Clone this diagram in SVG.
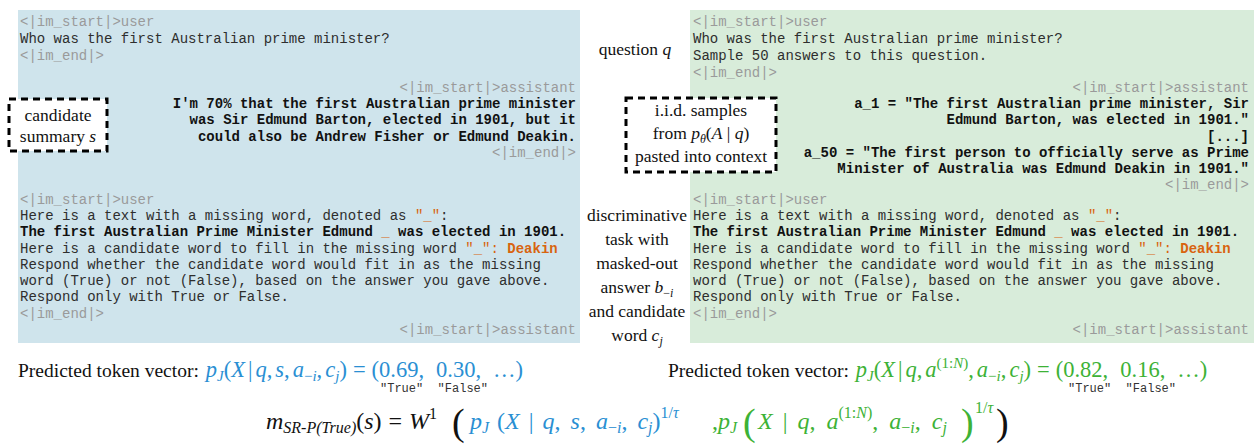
<svg xmlns="http://www.w3.org/2000/svg" width="1254" height="445" viewBox="0 0 1254 445">
<style>
.m{font-family:"Liberation Mono",monospace;font-size:14px;fill:#2e2e2e}
.tag{fill:#9a9a9a}
.b{font-weight:bold;fill:#111}
.or{fill:#d8640f}
.ob{fill:#d8640f;font-weight:bold}
.r{text-anchor:end}
.s{font-family:"Liberation Serif",serif;font-size:17.5px;fill:#111}
.p{font-size:19.5px}
.mt{font-size:22.5px}
.f{font-size:24px}
.bp{font-size:38px}
.c{text-anchor:middle}
.i{font-style:italic}
.blue{fill:#2a8fd3}
.green{fill:#3db236}
.k{fill:#111}
.dash{fill:#fff;stroke:#000;stroke-width:3;stroke-dasharray:7 5}
.tf{font-family:"Liberation Mono",monospace;font-size:12px;fill:#333}
</style>
<rect width="1254" height="445" fill="#fff"/>
<g id="left-panel">
<rect x="18" y="10" width="562" height="333" fill="#cfe4ec"/>
<text class="m tag" x="20" y="26">&lt;|im_start|&gt;user</text>
<text class="m" x="20" y="43">Who was the first Australian prime minister?</text>
<text class="m tag" x="20" y="60">&lt;|im_end|&gt;</text>
<text class="m tag r" x="576" y="92">&lt;|im_start|&gt;assistant</text>
<text class="m b r" x="576" y="108">I'm 70% that the first Australian prime minister</text>
<text class="m b r" x="576" y="124">was Sir Edmund Barton, elected in 1901, but it</text>
<text class="m b r" x="576" y="141">could also be Andrew Fisher or Edmund Deakin.</text>
<text class="m tag r" x="576" y="157">&lt;|im_end|&gt;</text>
<text class="m tag" x="20" y="204">&lt;|im_start|&gt;user</text>
<text class="m" x="20" y="220">Here is a text with a missing word, denoted as <tspan class="or">"_"</tspan>:</text>
<text class="m b" x="20" y="236">The first Australian Prime Minister Edmund <tspan class="or">_</tspan> was elected in 1901.</text>
<text class="m" x="20" y="253">Here is a candidate word to fill in the missing word <tspan class="or">"_": </tspan><tspan class="ob">Deakin</tspan></text>
<text class="m" x="20" y="269">Respond whether the candidate word would fit in as the missing</text>
<text class="m" x="20" y="285">word (True) or not (False), based on the answer you gave above.</text>
<text class="m" x="20" y="301">Respond only with True or False.</text>
<text class="m tag" x="20" y="318">&lt;|im_end|&gt;</text>
<text class="m tag r" x="576" y="334">&lt;|im_start|&gt;assistant</text>
</g>
<g id="right-panel">
<rect x="690" y="10" width="564" height="333" fill="#d8ecda"/>
<text class="m tag" x="693" y="26">&lt;|im_start|&gt;user</text>
<text class="m" x="693" y="43">Who was the first Australian prime minister?</text>
<text class="m" x="693" y="60">Sample 50 answers to this question.</text>
<text class="m tag" x="693" y="77">&lt;|im_end|&gt;</text>
<text class="m tag r" x="1249" y="92">&lt;|im_start|&gt;assistant</text>
<text class="m b r" x="1249" y="108">a_1 = "The first Australian prime minister, Sir</text>
<text class="m b r" x="1249" y="124">Edmund Barton, was elected in 1901."</text>
<text class="m b r" x="1249" y="141">[...]</text>
<text class="m b r" x="1249" y="157">a_50 = "The first person to officially serve as Prime</text>
<text class="m b r" x="1249" y="173">Minister of Australia was Edmund Deakin in 1901."</text>
<text class="m tag r" x="1249" y="189">&lt;|im_end|&gt;</text>
<text class="m tag" x="693" y="204">&lt;|im_start|&gt;user</text>
<text class="m" x="693" y="220">Here is a text with a missing word, denoted as <tspan class="or">"_"</tspan>:</text>
<text class="m b" x="693" y="236">The first Australian Prime Minister Edmund <tspan class="or">_</tspan> was elected in 1901.</text>
<text class="m" x="693" y="253">Here is a candidate word to fill in the missing word <tspan class="or">"_": </tspan><tspan class="ob">Deakin</tspan></text>
<text class="m" x="693" y="269">Respond whether the candidate word would fit in as the missing</text>
<text class="m" x="693" y="285">word (True) or not (False), based on the answer you gave above.</text>
<text class="m" x="693" y="301">Respond only with True or False.</text>
<text class="m tag" x="693" y="318">&lt;|im_end|&gt;</text>
<text class="m tag r" x="1249" y="334">&lt;|im_start|&gt;assistant</text>
</g>
<g id="label-candidate-summary">
<rect class="dash" x="9" y="99" width="98" height="52"/>
<text class="s c" x="58" y="121">candidate</text>
<text class="s c" x="58" y="142">summary <tspan class="i">s</tspan></text>
</g>
<g id="label-question">
<text class="s c" x="635" y="55">question <tspan class="i">q</tspan></text>
</g>
<g id="label-iid-samples">
<rect class="dash" x="626" y="98" width="150" height="74"/>
<text class="s c" x="701" y="116">i.i.d. samples</text>
<text class="s c" x="701" y="139">from <tspan class="i">p</tspan><tspan class="i" font-size="12" dy="4">θ</tspan><tspan dy="-4">(</tspan><tspan class="i">A</tspan> | <tspan class="i">q</tspan>)</text>
<text class="s c" x="701" y="162">pasted into context</text>
</g>
<g id="label-discriminative">
<text class="s c" x="637" y="221">discriminative</text>
<text class="s c" x="637" y="245">task with</text>
<text class="s c" x="637" y="269">masked-out</text>
<text class="s c" x="637" y="293">answer <tspan class="i">b</tspan><tspan font-size="12" dy="4">−<tspan class="i">i</tspan></tspan></text>
<text class="s c" x="637" y="317">and candidate</text>
<text class="s c" x="637" y="341">word <tspan class="i">c</tspan><tspan class="i" font-size="12" dy="4">j</tspan></text>
</g>
<g id="connectors"/>
<g id="prediction-left">
<text xml:space="preserve" class="s p" x="18" y="377">Predicted token vector: <tspan class="blue mt" dx="2"><tspan class="i">p</tspan><tspan class="i" font-size="15" dy="4">J</tspan><tspan dy="-4">(</tspan><tspan class="i">X</tspan><tspan dx="3">|</tspan><tspan dx="3" class="i">q</tspan>,<tspan dx="3" class="i">s</tspan>,<tspan dx="3" class="i">a</tspan><tspan font-size="15" dy="4">−<tspan class="i">i</tspan></tspan><tspan dy="-4">,</tspan><tspan dx="3" class="i">c</tspan><tspan class="i" font-size="15" dy="4">j</tspan><tspan dy="-4">)</tspan><tspan dx="6">=</tspan><tspan dx="6">(0.69,</tspan><tspan dx="12">0.30,</tspan><tspan dx="12">…)</tspan></tspan></text>
<text xml:space="preserve" class="tf" x="380" y="392">"True"  "False"</text>
</g>
<g id="prediction-right">
<text xml:space="preserve" class="s p" x="668" y="377">Predicted token vector: <tspan class="green mt" dx="2"><tspan class="i">p</tspan><tspan class="i" font-size="15" dy="4">J</tspan><tspan dy="-4">(</tspan><tspan class="i">X</tspan><tspan dx="3">|</tspan><tspan dx="3" class="i">q</tspan>,<tspan dx="3" class="i">a</tspan><tspan font-size="15" dy="-9">(1:<tspan class="i">N</tspan>)</tspan><tspan dy="9">,</tspan><tspan dx="3" class="i">a</tspan><tspan font-size="15" dy="4">−<tspan class="i">i</tspan></tspan><tspan dy="-4">,</tspan><tspan dx="3" class="i">c</tspan><tspan class="i" font-size="15" dy="4">j</tspan><tspan dy="-4">)</tspan><tspan dx="6">=</tspan><tspan dx="6">(0.82,</tspan><tspan dx="12">0.16,</tspan><tspan dx="12">…)</tspan></tspan></text>
<text xml:space="preserve" class="tf" x="1068" y="392">"True"  "False"</text>
</g>
<g id="score-formula">
<text xml:space="preserve" class="s f" x="266" y="429"><tspan class="i">m</tspan><tspan class="i" font-size="16" dy="4">SR-P(True)</tspan><tspan dy="-4">(</tspan><tspan class="i">s</tspan>)<tspan dx="7">=</tspan><tspan dx="7" class="i">W</tspan><tspan font-size="16" dy="-10">1</tspan></text>
<text class="s bp k" x="452" y="435">(</text>
<text xml:space="preserve" class="s f blue" x="470" y="429"><tspan class="i">p</tspan><tspan class="i" font-size="16" dy="4">J</tspan><tspan dy="-4" dx="8">(</tspan><tspan class="i">X</tspan><tspan dx="9">|</tspan><tspan dx="9" class="i">q</tspan>,<tspan dx="10" class="i">s</tspan>,<tspan dx="10" class="i">a</tspan><tspan font-size="16" dy="4">−<tspan class="i">i</tspan></tspan><tspan dy="-4">,</tspan><tspan dx="10" class="i">c</tspan><tspan class="i" font-size="16" dy="4">j</tspan><tspan dy="-4">)</tspan><tspan font-size="16" dy="-11">1/<tspan class="i">τ</tspan></tspan></text>
<text xml:space="preserve" class="s f green" x="712" y="429">,<tspan class="i">p</tspan><tspan class="i" font-size="16" dy="4">J</tspan></text>
<text class="s bp green" x="743" y="435">(</text>
<text xml:space="preserve" class="s f green" x="758" y="429"><tspan class="i">X</tspan><tspan dx="10">|</tspan><tspan dx="10" class="i">q</tspan>,<tspan dx="11" class="i">a</tspan><tspan font-size="16" dy="-11">(1:<tspan class="i">N</tspan>)</tspan><tspan dy="11">,</tspan><tspan dx="11" class="i">a</tspan><tspan font-size="16" dy="4">−<tspan class="i">i</tspan></tspan><tspan dy="-4">,</tspan><tspan dx="11" class="i">c</tspan><tspan class="i" font-size="16" dy="4">j</tspan></text>
<text class="s bp green" x="961" y="435">)</text>
<text xml:space="preserve" class="s green" style="font-size:16px" x="975" y="413">1/<tspan class="i">τ</tspan></text>
<text class="s bp k" x="996" y="435">)</text>
</g>
</svg>
